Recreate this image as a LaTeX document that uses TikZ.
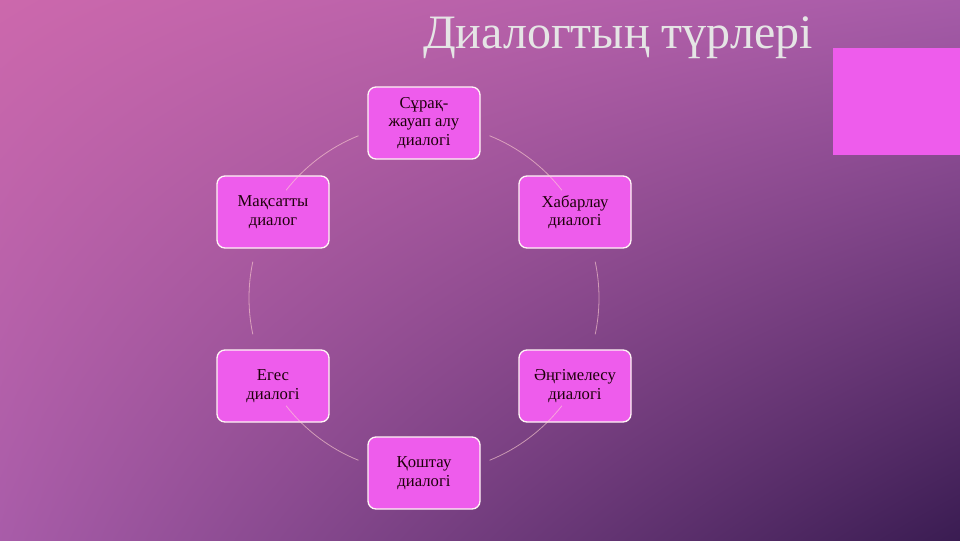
\documentclass[tikz,border=0pt]{standalone}
\usepackage{fontspec}
\setmainfont{Liberation Serif}
\usetikzlibrary{shadings}
\begin{document}
\begin{tikzpicture}[x=0.75pt,y=-0.75pt,
  box/.style={draw=white!85!pink,line width=1pt,fill=boxpink,rounded corners=6pt,minimum width=84pt,minimum height=54pt,align=center,font=\fontsize{12.5}{14}\selectfont,text=black!85!purple,inner sep=2pt},
  link/.style={draw=pink!70!white,line width=0.6pt,opacity=0.6}]
\definecolor{boxpink}{HTML}{EE5CEC}
\definecolor{bgA}{HTML}{CC68AC}
\definecolor{bgB}{HTML}{A25AA8}
\definecolor{bgC}{HTML}{3A1C52}
\useasboundingbox (0,0) rectangle (960,540);
\shade[upper left=bgA,upper right=bgB!90!bgA,lower left=bgB!85!bgA,lower right=bgC] (0,0) rectangle (960,540);
\fill[boxpink] (833,48) rectangle (960,155);
\node[text=white!80!gray,font=\fontsize{36}{36}\selectfont] (title) at (618,38) {Диалогтың түрлері};
\node[box] (a) at (424,123) {Сұрақ-\\жауап алу\\диалогі};
\node[box] (b) at (575,212) {Хабарлау\\диалогі};
\node[box] (c) at (575,386) {Әңгімелесу\\диалогі};
\node[box] (d) at (424,473) {Қоштау\\диалогі};
\node[box] (e) at (273,386) {Егес\\диалогі};
\node[box] (f) at (273,212) {Мақсатты\\диалог};
\coordinate (o) at (424,298);
\foreach \s/\e in {-68/-38,-12/12,38/68,112/142,168/192,218/248}
  \draw[link] (o) ++(\s:175) arc[start angle=\s,end angle=\e,radius=175];
\end{tikzpicture}
\end{document}
